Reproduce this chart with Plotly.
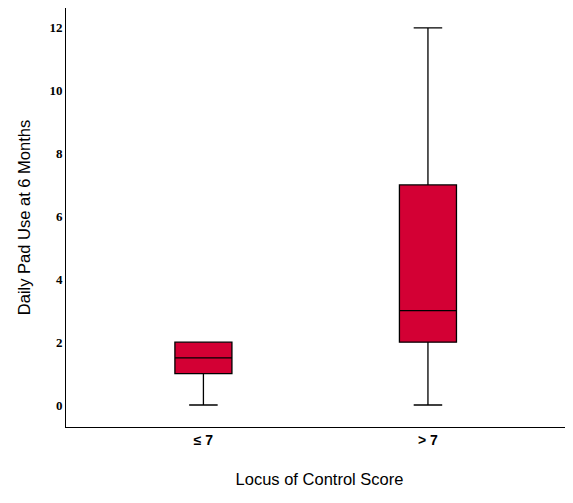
import plotly.graph_objects as go

# ── Data ───────────────────────────────────────────────────
groups       = ['≤ 7', '> 7']
lower_fence  = [0, 0]
q1           = [1, 2]
medians      = [1.5, 3]
q3           = [2, 7]
upper_fence  = [2, 12]

box_color = '#D30034'

fig = go.Figure()
fig.add_trace(go.Box(
    x=groups,
    q1=q1, median=medians, q3=q3,
    lowerfence=lower_fence, upperfence=upper_fence,
    fillcolor=box_color,
    line=dict(color='black', width=1.3),
    whiskerwidth=0.5,
    width=0.254,
    boxpoints=False,
    hoverinfo='skip',
    showlegend=False,
))

# page body has an 8px margin, so the figure is sized to fit inside it
fig.update_layout(
    width=565, height=495,
    margin=dict(l=58, r=0, t=0, b=76, autoexpand=False),
    plot_bgcolor='white', paper_bgcolor='white',
    font=dict(family='Liberation Sans', color='black'),
)
fig.update_xaxes(
    type='category', automargin=False,
    range=[-0.612, 1.646],
    showline=True, linecolor='black', linewidth=1,
    showgrid=False, ticks='',
    tickfont=dict(family='Liberation Sans', size=14, weight='bold'),
    title=dict(text='Locus of Control Score', font=dict(size=16.5), standoff=26),
)
fig.update_yaxes(
    automargin=False,
    range=[-0.70, 12.63],
    tickvals=[0, 2, 4, 6, 8, 10, 12],
    showline=True, linecolor='black', linewidth=1,
    showgrid=False, zeroline=False, ticks='',
    tickfont=dict(family='Liberation Serif', size=13, weight='bold'),
    title=dict(text='Daily Pad Use at 6 Months', font=dict(size=16.5), standoff=14),
)

fig.write_html("out.html")
